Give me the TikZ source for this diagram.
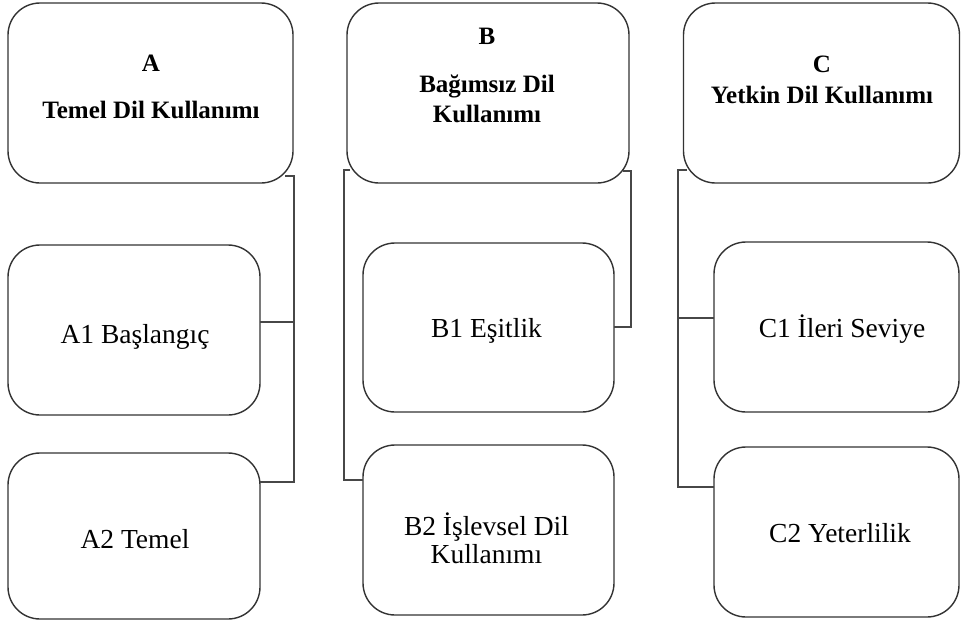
\documentclass[tikz,border=0pt]{standalone}
\usepackage{fontspec}
\setmainfont{Liberation Serif}
\begin{document}
\begin{tikzpicture}[x=1pt,y=-1pt,
  box/.style={draw=black!80, line width=1.4pt, rounded corners=32pt, inner sep=0pt, outer sep=0pt},
  conn/.style={draw=black!72, line width=1.4pt},
  reg/.style={anchor=base, inner sep=0pt, font=\fontsize{27.5}{31}\selectfont},
  bld/.style={anchor=base, inner sep=0pt, font=\fontsize{25}{30}\selectfont\bfseries}]
\useasboundingbox (0,0) rectangle (961,621);
% boxes
\node[box, minimum width=285pt, minimum height=180pt] (A) at (150.5,93) {};
\node[box, minimum width=282pt, minimum height=180pt] (B) at (488,93) {};
\node[box, minimum width=276pt, minimum height=180pt] (C) at (821.5,93) {};
\node[box, minimum width=252pt, minimum height=170pt] (A1) at (134,330) {};
\node[box, minimum width=252pt, minimum height=166pt] (A2) at (134,536) {};
\node[box, minimum width=251pt, minimum height=169pt] (B1) at (488.5,327.5) {};
\node[box, minimum width=251pt, minimum height=170pt] (B2) at (488.5,530) {};
\node[box, minimum width=245pt, minimum height=170pt] (C1) at (836.5,327) {};
\node[box, minimum width=245pt, minimum height=170pt] (C2) at (836.5,532) {};
% texts
\node[bld] (tA) at (151,71) {A};
\node[bld] (tA2) at (151,118) {Temel Dil Kullanımı};
\node[bld] (tB) at (487,44) {B};
\node[bld] (tB2) at (487,92) {Bağımsız Dil};
\node[bld] (tB3) at (487,122) {Kullanımı};
\node[bld] (tC) at (822,72) {C};
\node[bld] (tC2) at (822,103) {Yetkin Dil Kullanımı};
\node[reg] (tA1) at (135,343) {A1 Başlangıç};
\node[reg] (tA22) at (135,548) {A2 Temel};
\node[reg] (tB1) at (486.5,337) {B1 Eşitlik};
\node[reg] (tB21) at (486.5,535) {B2 İşlevsel Dil};
\node[reg] (tB22) at (486.5,563) {Kullanımı};
\node[reg] (tC1) at (842,337) {C1 İleri Seviye};
\node[reg] (tC21) at (840,542) {C2 Yeterlilik};
% connector start points
\coordinate (aS) at (285,176);
\coordinate (bL) at (350,170);
\coordinate (bR) at (623,171);
\coordinate (cS) at (687,170);
% connectors
\draw[conn] (aS) -| (294,482) -- (A2.east |- 294,482);
\draw[conn] (294,322) -- (A1.east |- 294,322);
\draw[conn] (bL) -| (344,480) -- (B2.west |- 344,480);
\draw[conn] (bR) -| (631,327) -- (B1.east |- 631,327);
\draw[conn] (cS) -| (678,487) -- (C2.west |- 678,487);
\draw[conn] (678,318) -- (C1.west |- 678,318);
\end{tikzpicture}
\end{document}
